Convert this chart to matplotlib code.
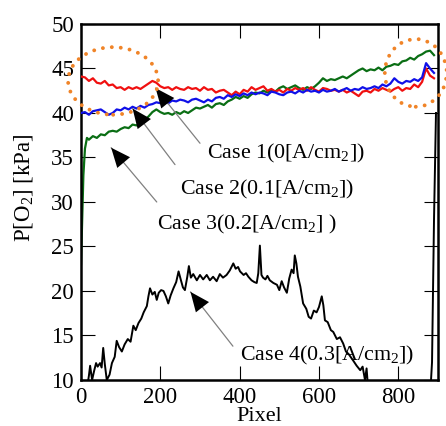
import matplotlib
matplotlib.use("Agg")
import matplotlib.pyplot as plt
from matplotlib.patches import Ellipse

plt.rcParams['font.family'] = ['Liberation Serif', 'DejaVu Serif']
plt.rcParams['mathtext.default'] = 'regular'

# ---------------- data ----------------
x_step = list(range(0, 900, 10))

case1 = [44.1, 44.0, 43.6, 43.9, 43.4, 43.3, 43.6, 43.1, 43.2, 42.8,
         42.9, 42.6, 42.9, 42.7, 42.9, 42.7, 43.0, 43.3, 43.6, 43.4,
         43.0, 42.8, 42.9, 42.6, 42.9, 42.7, 42.6, 42.9, 42.7, 42.8,
         42.5, 42.9, 42.6, 42.7, 42.3, 42.5, 42.6, 42.3, 42.0, 42.4,
         42.1, 42.6, 42.4, 42.9, 42.6, 42.8, 43.0, 42.5, 42.7, 42.4,
         42.6, 42.3, 42.7, 42.5, 42.8, 42.6, 42.8, 42.5, 42.9, 42.6,
         42.4, 42.8, 42.7, 42.5, 42.6, 42.4, 42.6, 42.3, 42.5, 42.2,
         41.9, 42.4, 42.5, 42.3, 42.7, 42.5, 42.8, 42.6, 42.4, 42.7,
         42.9, 42.5, 42.8, 42.7, 43.2, 42.9, 43.5, 45.0, 44.2, 43.9]

case2 = [40.0, 40.1, 39.8, 40.2, 40.3, 40.4, 40.1, 39.8, 40.0, 40.4,
         40.3, 40.6, 40.4, 40.7, 40.5, 40.8, 40.6, 40.9, 41.0, 41.2,
         41.1, 41.3, 41.1, 41.4, 41.3, 41.5, 41.4, 41.2, 41.5, 41.6,
         41.4, 41.2, 41.5, 41.3, 41.7, 41.8, 41.6, 42.0, 41.8, 42.1,
         41.9, 42.2, 42.0, 42.3, 42.1, 42.3, 42.2, 42.0, 42.4, 42.3,
         42.1, 42.0, 42.3, 42.4, 42.2, 42.5, 42.3, 42.6, 42.4, 42.5,
         42.3, 42.6, 42.4, 42.5, 42.7, 42.4, 42.6, 42.8, 42.5, 42.7,
         42.6, 42.9, 42.7, 42.8, 43.0, 42.8, 43.2, 43.0, 43.3, 43.9,
         43.5, 43.3, 43.6, 43.5, 43.8, 43.6, 44.0, 45.6, 45.0, 44.5]

x_case3 = [0, 3, 6, 10, 15] + list(range(20, 900, 10))
case3 = [23.0, 28.0, 33.0, 36.0, 37.2,
         37.0, 37.4, 37.2, 37.6, 37.5, 37.9, 38.0, 37.9, 38.2, 38.4,
         38.3, 38.7, 38.6, 39.0, 39.2, 39.6, 40.1, 40.4, 40.1, 39.9,
         40.0, 39.8, 40.1, 39.9, 40.2, 40.0, 40.3, 40.6, 40.5, 40.7,
         40.9, 40.6, 41.0, 41.1, 40.9, 41.3, 41.5, 41.8, 41.6, 41.9,
         41.7, 42.1, 42.3, 42.2, 42.5, 42.3, 42.6, 42.4, 42.8, 43.0,
         42.7, 42.9, 43.1, 42.8, 42.6, 42.9, 42.7, 43.0, 43.4, 43.9,
         43.6, 43.8, 43.7, 43.9, 44.1, 43.9, 44.2, 44.5, 44.8, 45.0,
         44.7, 44.9, 44.8, 45.1, 44.8, 45.2, 45.3, 45.5, 45.4, 45.8,
         45.9, 46.2, 46.0, 46.4, 46.6, 46.9, 47.0, 46.5]

x_case4 = [15, 20, 23, 28, 33, 38, 42, 48, 52, 56, 60, 65, 72, 78, 85, 90,
           96, 103, 110, 118, 125, 132, 138, 145, 152, 158, 166, 170, 174,
           180, 186, 191, 196, 202, 208, 214, 220, 226, 233, 240, 246, 252,
           257, 262, 268, 272, 277, 283, 292, 300, 308, 317, 325, 333, 342,
           350, 358, 367, 375, 384, 390, 396, 401, 410, 416, 422, 430, 437,
           443, 447, 451, 455, 459, 465, 470, 476, 485, 494, 500, 506, 512,
           519, 525, 531, 536, 539, 543, 547, 553, 560, 568, 574, 580, 587,
           594, 600, 607, 611, 615, 622, 630, 636, 645, 653, 661, 668, 675,
           686, 695, 704, 710, 716, 720, 724, 880, 885, 890, 895]
case4 = [9.0, 10.5, 11.6, 10.0, 11.0, 11.9, 11.5, 11.9, 11.4, 13.6, 11.8,
         10.0, 10.6, 11.9, 12.6, 14.4, 13.7, 13.2, 14.0, 14.6, 14.3, 16.1,
         15.6, 16.4, 16.9, 17.6, 18.3, 19.4, 20.3, 19.6, 19.9, 19.0, 19.8,
         20.1, 20.0, 19.4, 18.6, 19.5, 20.3, 21.0, 22.2, 21.2, 20.4, 20.1,
         21.6, 22.8, 21.5, 21.9, 21.2, 21.8, 21.3, 21.8, 21.2, 21.6, 21.1,
         21.9, 21.5, 21.8, 22.3, 23.1, 22.5, 22.7, 22.2, 21.8, 22.0, 21.6,
         21.2, 21.0, 20.9, 22.0, 25.1, 21.8, 21.5, 21.3, 21.7, 21.2, 20.9,
         20.7, 20.1, 21.1, 20.4, 19.8, 21.4, 22.4, 22.0, 24.0, 23.1, 21.6,
         20.5, 18.6, 18.0, 17.1, 16.9, 17.8, 17.6, 18.2, 19.4, 18.4, 16.7,
         16.5, 15.6, 15.4, 14.6, 14.8, 14.1, 13.2, 12.9, 12.2, 11.6, 11.1,
         11.5, 10.0, 11.3, 9.0, 8.0, 12.0, 28.0, 40.0]

labels = ['Case 1(0[A/cm$_2$])', 'Case 2(0.1[A/cm$_2$])',
          'Case 3(0.2[A/cm$_2$] )', 'Case 4(0.3[A/cm$_2$])']
label_xy = [(318, 35.5), (249, 31.35), (191, 27.5), (401, 12.8)]
arrow_tip = [(188, 42.8), (130, 40.5), (76, 36.1), (276, 19.9)]
arrow_start = [(300, 36.6), (237, 34.2), (191, 30.0), (383, 13.8)]

x_ticks = [0, 200, 400, 600, 800]
y_ticks = [10, 15, 20, 25, 30, 35, 40, 45, 50]

# highlighted regions (centre x, centre y, width, height)
circles = [(81, 43.6, 227, 7.6), (844, 44.5, 156, 7.6)]

# ---------------- plot ----------------
fig = plt.figure(figsize=(4.46, 4.26), dpi=100)
ax = fig.add_axes([0.1816, 0.108, 0.8004, 0.8357])

ax.plot(x_step, case1, color='#f01010', lw=1.6, zorder=3)
ax.plot(x_step, case2, color='#1010e8', lw=1.6, zorder=3)
ax.plot(x_case3, case3, color='#0a6e14', lw=1.6, zorder=2)
ax.plot(x_case4, case4, color='black', lw=1.4, zorder=2)

for (cx, cy, w, h) in circles:
    e = Ellipse((cx, cy), w, h, fill=False, edgecolor='#f08428', lw=2.8,
                linestyle=(0, (0.01, 2.3)), clip_on=False, zorder=5)
    e.set_capstyle('round')
    ax.add_patch(e)

for lab, (tx, ty), tip, st in zip(labels, label_xy, arrow_tip, arrow_start):
    ax.text(tx, ty, lab, fontsize=15.8, ha='left', va='center', zorder=6)
    ax.annotate('', xy=tip, xytext=st,
                arrowprops=dict(arrowstyle='-', color='#808080', lw=0.9,
                                shrinkA=0, shrinkB=0), zorder=4)
    ax.annotate('', xy=tip, xytext=st,
                arrowprops=dict(arrowstyle='-|>,head_length=0.7,head_width=0.3',
                                mutation_scale=20, fc='black', ec='black',
                                lw=0, shrinkA=0, shrinkB=0), zorder=4)

ax.set_xlim(0, 900)
ax.set_ylim(10, 50)
ax.set_xticks(x_ticks)
ax.set_yticks(y_ticks)
ax.tick_params(direction='in', length=10, width=0.8, top=True, right=True,
               labelsize=16.5, pad=5)
for s in ax.spines.values():
    s.set_linewidth(1.8)

ax.set_xlabel('Pixel', fontsize=16, labelpad=-0.5)
ax.set_ylabel('P[O$_2$] [kPa]', fontsize=16.5)
ax.yaxis.set_label_coords(-0.128, 0.54)

fig.savefig('out.png', dpi=100)
